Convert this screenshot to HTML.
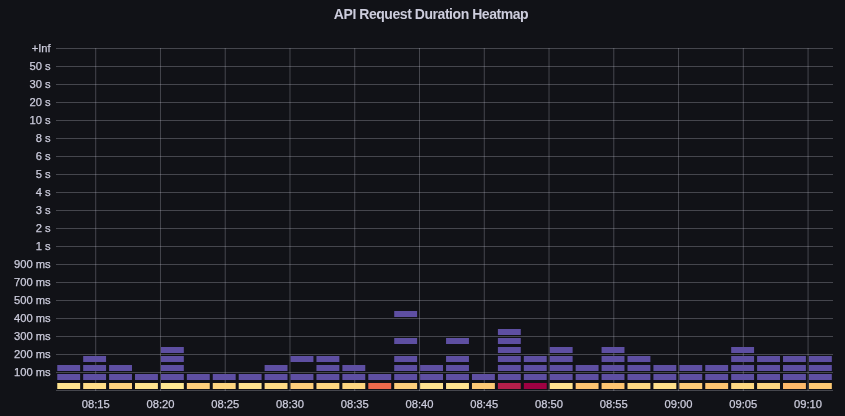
<!DOCTYPE html><html><head><meta charset="utf-8"><style>
html,body{margin:0;padding:0;background:#111217;}
body{width:845px;height:416px;overflow:hidden;position:relative;font-family:"Liberation Sans",sans-serif;}
svg{position:absolute;left:0;top:0;will-change:transform;}
.t{font-family:"Liberation Sans",sans-serif;fill:#ccccdc;}
</style></head><body>
<svg width="845" height="416" viewBox="0 0 845 416">
<text class="t" x="431" y="18.6" text-anchor="middle" font-size="14" font-weight="bold" letter-spacing="-0.45">API Request Duration Heatmap</text>
<rect x="56" y="48" width="777" height="1" fill="rgba(204,204,220,0.28)"/>
<rect x="56" y="66" width="777" height="1" fill="rgba(204,204,220,0.28)"/>
<rect x="56" y="84" width="777" height="1" fill="rgba(204,204,220,0.28)"/>
<rect x="56" y="102" width="777" height="1" fill="rgba(204,204,220,0.28)"/>
<rect x="56" y="120" width="777" height="1" fill="rgba(204,204,220,0.28)"/>
<rect x="56" y="138" width="777" height="1" fill="rgba(204,204,220,0.28)"/>
<rect x="56" y="156" width="777" height="1" fill="rgba(204,204,220,0.28)"/>
<rect x="56" y="174" width="777" height="1" fill="rgba(204,204,220,0.28)"/>
<rect x="56" y="192" width="777" height="1" fill="rgba(204,204,220,0.28)"/>
<rect x="56" y="210" width="777" height="1" fill="rgba(204,204,220,0.28)"/>
<rect x="56" y="228" width="777" height="1" fill="rgba(204,204,220,0.28)"/>
<rect x="56" y="246" width="777" height="1" fill="rgba(204,204,220,0.28)"/>
<rect x="56" y="264" width="777" height="1" fill="rgba(204,204,220,0.28)"/>
<rect x="56" y="282" width="777" height="1" fill="rgba(204,204,220,0.28)"/>
<rect x="56" y="300" width="777" height="1" fill="rgba(204,204,220,0.28)"/>
<rect x="56" y="318" width="777" height="1" fill="rgba(204,204,220,0.28)"/>
<rect x="56" y="336" width="777" height="1" fill="rgba(204,204,220,0.28)"/>
<rect x="56" y="354" width="777" height="1" fill="rgba(204,204,220,0.28)"/>
<rect x="56" y="372" width="777" height="1" fill="rgba(204,204,220,0.28)"/>
<rect x="56" y="390" width="777" height="1" fill="rgba(204,204,220,0.28)"/>
<rect x="95.20" y="48" width="1" height="343" fill="rgba(204,204,220,0.28)"/>
<rect x="159.96" y="48" width="1" height="343" fill="rgba(204,204,220,0.28)"/>
<rect x="224.72" y="48" width="1" height="343" fill="rgba(204,204,220,0.28)"/>
<rect x="289.48" y="48" width="1" height="343" fill="rgba(204,204,220,0.28)"/>
<rect x="354.24" y="48" width="1" height="343" fill="rgba(204,204,220,0.28)"/>
<rect x="419.00" y="48" width="1" height="343" fill="rgba(204,204,220,0.28)"/>
<rect x="483.76" y="48" width="1" height="343" fill="rgba(204,204,220,0.28)"/>
<rect x="548.52" y="48" width="1" height="343" fill="rgba(204,204,220,0.28)"/>
<rect x="613.28" y="48" width="1" height="343" fill="rgba(204,204,220,0.28)"/>
<rect x="678.04" y="48" width="1" height="343" fill="rgba(204,204,220,0.28)"/>
<rect x="742.80" y="48" width="1" height="343" fill="rgba(204,204,220,0.28)"/>
<rect x="807.56" y="48" width="1" height="343" fill="rgba(204,204,220,0.28)"/>
<rect x="57.25" y="383" width="22.90" height="6" fill="#fee38f"/>
<rect x="57.25" y="374" width="22.90" height="6" fill="#5e4fa2"/>
<rect x="57.25" y="365" width="22.90" height="6" fill="#5e4fa2"/>
<rect x="83.17" y="383" width="22.90" height="6" fill="#fedd88"/>
<rect x="83.17" y="374" width="22.90" height="6" fill="#5e4fa2"/>
<rect x="83.17" y="365" width="22.90" height="6" fill="#5e4fa2"/>
<rect x="83.17" y="356" width="22.90" height="6" fill="#5e4fa2"/>
<rect x="109.09" y="383" width="22.90" height="6" fill="#fdd27e"/>
<rect x="109.09" y="374" width="22.90" height="6" fill="#5e4fa2"/>
<rect x="109.09" y="365" width="22.90" height="6" fill="#5e4fa2"/>
<rect x="135.01" y="383" width="22.90" height="6" fill="#fee38f"/>
<rect x="135.01" y="374" width="22.90" height="6" fill="#5e4fa2"/>
<rect x="160.93" y="383" width="22.90" height="6" fill="#fee893"/>
<rect x="160.93" y="374" width="22.90" height="6" fill="#5e4fa2"/>
<rect x="160.93" y="365" width="22.90" height="6" fill="#5e4fa2"/>
<rect x="160.93" y="356" width="22.90" height="6" fill="#5e4fa2"/>
<rect x="160.93" y="347" width="22.90" height="6" fill="#5e4fa2"/>
<rect x="186.85" y="383" width="22.90" height="6" fill="#fdcf7b"/>
<rect x="186.85" y="374" width="22.90" height="6" fill="#5e4fa2"/>
<rect x="212.77" y="383" width="22.90" height="6" fill="#fdd681"/>
<rect x="212.77" y="374" width="22.90" height="6" fill="#5e4fa2"/>
<rect x="238.69" y="383" width="22.90" height="6" fill="#fee38f"/>
<rect x="238.69" y="374" width="22.90" height="6" fill="#5e4fa2"/>
<rect x="264.61" y="383" width="22.90" height="6" fill="#fedb86"/>
<rect x="264.61" y="374" width="22.90" height="6" fill="#5e4fa2"/>
<rect x="264.61" y="365" width="22.90" height="6" fill="#5e4fa2"/>
<rect x="290.53" y="383" width="22.90" height="6" fill="#fdcf7b"/>
<rect x="290.53" y="374" width="22.90" height="6" fill="#5e4fa2"/>
<rect x="290.53" y="356" width="22.90" height="6" fill="#5e4fa2"/>
<rect x="316.45" y="383" width="22.90" height="6" fill="#fdd680"/>
<rect x="316.45" y="374" width="22.90" height="6" fill="#5e4fa2"/>
<rect x="316.45" y="365" width="22.90" height="6" fill="#5e4fa2"/>
<rect x="316.45" y="356" width="22.90" height="6" fill="#5e4fa2"/>
<rect x="342.37" y="383" width="22.90" height="6" fill="#fdd680"/>
<rect x="342.37" y="374" width="22.90" height="6" fill="#5e4fa2"/>
<rect x="342.37" y="365" width="22.90" height="6" fill="#5e4fa2"/>
<rect x="368.29" y="383" width="22.90" height="6" fill="#ec6a4c"/>
<rect x="368.29" y="374" width="22.90" height="6" fill="#5e4fa2"/>
<rect x="394.21" y="383" width="22.90" height="6" fill="#fdcf7c"/>
<rect x="394.21" y="374" width="22.90" height="6" fill="#5e4fa2"/>
<rect x="394.21" y="365" width="22.90" height="6" fill="#5e4fa2"/>
<rect x="394.21" y="356" width="22.90" height="6" fill="#5e4fa2"/>
<rect x="394.21" y="338" width="22.90" height="6" fill="#5e4fa2"/>
<rect x="394.21" y="311" width="22.90" height="6" fill="#5e4fa2"/>
<rect x="420.13" y="383" width="22.90" height="6" fill="#fee38f"/>
<rect x="420.13" y="374" width="22.90" height="6" fill="#5e4fa2"/>
<rect x="420.13" y="365" width="22.90" height="6" fill="#5e4fa2"/>
<rect x="446.05" y="383" width="22.90" height="6" fill="#fee38f"/>
<rect x="446.05" y="374" width="22.90" height="6" fill="#5e4fa2"/>
<rect x="446.05" y="365" width="22.90" height="6" fill="#5e4fa2"/>
<rect x="446.05" y="356" width="22.90" height="6" fill="#5e4fa2"/>
<rect x="446.05" y="338" width="22.90" height="6" fill="#5e4fa2"/>
<rect x="471.97" y="383" width="22.90" height="6" fill="#fdca75"/>
<rect x="471.97" y="374" width="22.90" height="6" fill="#5e4fa2"/>
<rect x="497.89" y="383" width="22.90" height="6" fill="#b41f4a"/>
<rect x="497.89" y="374" width="22.90" height="6" fill="#5e4fa2"/>
<rect x="497.89" y="365" width="22.90" height="6" fill="#5e4fa2"/>
<rect x="497.89" y="356" width="22.90" height="6" fill="#5e4fa2"/>
<rect x="497.89" y="347" width="22.90" height="6" fill="#5e4fa2"/>
<rect x="497.89" y="338" width="22.90" height="6" fill="#5e4fa2"/>
<rect x="497.89" y="329" width="22.90" height="6" fill="#5e4fa2"/>
<rect x="523.81" y="383" width="22.90" height="6" fill="#9e0142"/>
<rect x="523.81" y="374" width="22.90" height="6" fill="#5e4fa2"/>
<rect x="523.81" y="365" width="22.90" height="6" fill="#5e4fa2"/>
<rect x="523.81" y="356" width="22.90" height="6" fill="#5e4fa2"/>
<rect x="549.73" y="383" width="22.90" height="6" fill="#fee38f"/>
<rect x="549.73" y="374" width="22.90" height="6" fill="#5e4fa2"/>
<rect x="549.73" y="365" width="22.90" height="6" fill="#5e4fa2"/>
<rect x="549.73" y="356" width="22.90" height="6" fill="#5e4fa2"/>
<rect x="549.73" y="347" width="22.90" height="6" fill="#5e4fa2"/>
<rect x="575.65" y="383" width="22.90" height="6" fill="#fdc571"/>
<rect x="575.65" y="374" width="22.90" height="6" fill="#5e4fa2"/>
<rect x="575.65" y="365" width="22.90" height="6" fill="#5e4fa2"/>
<rect x="601.57" y="383" width="22.90" height="6" fill="#fdc571"/>
<rect x="601.57" y="374" width="22.90" height="6" fill="#5e4fa2"/>
<rect x="601.57" y="365" width="22.90" height="6" fill="#5e4fa2"/>
<rect x="601.57" y="356" width="22.90" height="6" fill="#5e4fa2"/>
<rect x="601.57" y="347" width="22.90" height="6" fill="#5e4fa2"/>
<rect x="627.49" y="383" width="22.90" height="6" fill="#fdd983"/>
<rect x="627.49" y="374" width="22.90" height="6" fill="#5e4fa2"/>
<rect x="627.49" y="365" width="22.90" height="6" fill="#5e4fa2"/>
<rect x="627.49" y="356" width="22.90" height="6" fill="#5e4fa2"/>
<rect x="653.41" y="383" width="22.90" height="6" fill="#fee08b"/>
<rect x="653.41" y="374" width="22.90" height="6" fill="#5e4fa2"/>
<rect x="653.41" y="365" width="22.90" height="6" fill="#5e4fa2"/>
<rect x="679.33" y="383" width="22.90" height="6" fill="#fdcb77"/>
<rect x="679.33" y="374" width="22.90" height="6" fill="#5e4fa2"/>
<rect x="679.33" y="365" width="22.90" height="6" fill="#5e4fa2"/>
<rect x="705.25" y="383" width="22.90" height="6" fill="#fdc571"/>
<rect x="705.25" y="374" width="22.90" height="6" fill="#5e4fa2"/>
<rect x="705.25" y="365" width="22.90" height="6" fill="#5e4fa2"/>
<rect x="731.17" y="383" width="22.90" height="6" fill="#fdd882"/>
<rect x="731.17" y="374" width="22.90" height="6" fill="#5e4fa2"/>
<rect x="731.17" y="365" width="22.90" height="6" fill="#5e4fa2"/>
<rect x="731.17" y="356" width="22.90" height="6" fill="#5e4fa2"/>
<rect x="731.17" y="347" width="22.90" height="6" fill="#5e4fa2"/>
<rect x="757.09" y="383" width="22.90" height="6" fill="#fdd680"/>
<rect x="757.09" y="374" width="22.90" height="6" fill="#5e4fa2"/>
<rect x="757.09" y="365" width="22.90" height="6" fill="#5e4fa2"/>
<rect x="757.09" y="356" width="22.90" height="6" fill="#5e4fa2"/>
<rect x="783.01" y="383" width="22.90" height="6" fill="#fdb96a"/>
<rect x="783.01" y="374" width="22.90" height="6" fill="#5e4fa2"/>
<rect x="783.01" y="365" width="22.90" height="6" fill="#5e4fa2"/>
<rect x="783.01" y="356" width="22.90" height="6" fill="#5e4fa2"/>
<rect x="808.93" y="383" width="22.90" height="6" fill="#fdc974"/>
<rect x="808.93" y="374" width="22.90" height="6" fill="#5e4fa2"/>
<rect x="808.93" y="365" width="22.90" height="6" fill="#5e4fa2"/>
<rect x="808.93" y="356" width="22.90" height="6" fill="#5e4fa2"/>
<text class="t" x="50.7" y="51.6" text-anchor="end" font-size="11.2" stroke="#ccccdc" stroke-width="0.25">+Inf</text>
<text class="t" x="50.7" y="69.6" text-anchor="end" font-size="11.2" stroke="#ccccdc" stroke-width="0.25">50 s</text>
<text class="t" x="50.7" y="87.6" text-anchor="end" font-size="11.2" stroke="#ccccdc" stroke-width="0.25">30 s</text>
<text class="t" x="50.7" y="105.6" text-anchor="end" font-size="11.2" stroke="#ccccdc" stroke-width="0.25">20 s</text>
<text class="t" x="50.7" y="123.6" text-anchor="end" font-size="11.2" stroke="#ccccdc" stroke-width="0.25">10 s</text>
<text class="t" x="50.7" y="141.6" text-anchor="end" font-size="11.2" stroke="#ccccdc" stroke-width="0.25">8 s</text>
<text class="t" x="50.7" y="159.6" text-anchor="end" font-size="11.2" stroke="#ccccdc" stroke-width="0.25">6 s</text>
<text class="t" x="50.7" y="177.6" text-anchor="end" font-size="11.2" stroke="#ccccdc" stroke-width="0.25">5 s</text>
<text class="t" x="50.7" y="195.6" text-anchor="end" font-size="11.2" stroke="#ccccdc" stroke-width="0.25">4 s</text>
<text class="t" x="50.7" y="213.6" text-anchor="end" font-size="11.2" stroke="#ccccdc" stroke-width="0.25">3 s</text>
<text class="t" x="50.7" y="231.6" text-anchor="end" font-size="11.2" stroke="#ccccdc" stroke-width="0.25">2 s</text>
<text class="t" x="50.7" y="249.6" text-anchor="end" font-size="11.2" stroke="#ccccdc" stroke-width="0.25">1 s</text>
<text class="t" x="50.7" y="267.6" text-anchor="end" font-size="11.2" stroke="#ccccdc" stroke-width="0.25">900 ms</text>
<text class="t" x="50.7" y="285.6" text-anchor="end" font-size="11.2" stroke="#ccccdc" stroke-width="0.25">700 ms</text>
<text class="t" x="50.7" y="303.6" text-anchor="end" font-size="11.2" stroke="#ccccdc" stroke-width="0.25">500 ms</text>
<text class="t" x="50.7" y="321.6" text-anchor="end" font-size="11.2" stroke="#ccccdc" stroke-width="0.25">400 ms</text>
<text class="t" x="50.7" y="339.6" text-anchor="end" font-size="11.2" stroke="#ccccdc" stroke-width="0.25">300 ms</text>
<text class="t" x="50.7" y="357.6" text-anchor="end" font-size="11.2" stroke="#ccccdc" stroke-width="0.25">200 ms</text>
<text class="t" x="50.7" y="375.6" text-anchor="end" font-size="11.2" stroke="#ccccdc" stroke-width="0.25">100 ms</text>
<text class="t" x="95.70" y="408" text-anchor="middle" font-size="11.2" stroke="#ccccdc" stroke-width="0.25">08:15</text>
<text class="t" x="160.46" y="408" text-anchor="middle" font-size="11.2" stroke="#ccccdc" stroke-width="0.25">08:20</text>
<text class="t" x="225.22" y="408" text-anchor="middle" font-size="11.2" stroke="#ccccdc" stroke-width="0.25">08:25</text>
<text class="t" x="289.98" y="408" text-anchor="middle" font-size="11.2" stroke="#ccccdc" stroke-width="0.25">08:30</text>
<text class="t" x="354.74" y="408" text-anchor="middle" font-size="11.2" stroke="#ccccdc" stroke-width="0.25">08:35</text>
<text class="t" x="419.50" y="408" text-anchor="middle" font-size="11.2" stroke="#ccccdc" stroke-width="0.25">08:40</text>
<text class="t" x="484.26" y="408" text-anchor="middle" font-size="11.2" stroke="#ccccdc" stroke-width="0.25">08:45</text>
<text class="t" x="549.02" y="408" text-anchor="middle" font-size="11.2" stroke="#ccccdc" stroke-width="0.25">08:50</text>
<text class="t" x="613.78" y="408" text-anchor="middle" font-size="11.2" stroke="#ccccdc" stroke-width="0.25">08:55</text>
<text class="t" x="678.54" y="408" text-anchor="middle" font-size="11.2" stroke="#ccccdc" stroke-width="0.25">09:00</text>
<text class="t" x="743.30" y="408" text-anchor="middle" font-size="11.2" stroke="#ccccdc" stroke-width="0.25">09:05</text>
<text class="t" x="808.06" y="408" text-anchor="middle" font-size="11.2" stroke="#ccccdc" stroke-width="0.25">09:10</text>
</svg></body></html>
